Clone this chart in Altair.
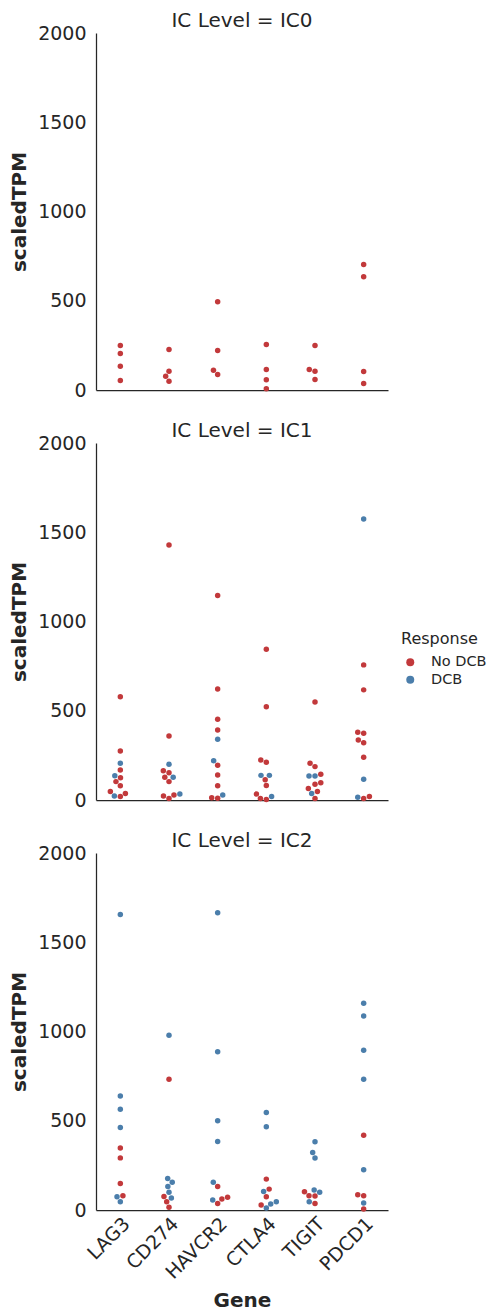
import math
import altair as alt
import pandas as pd

GENES = ["LAG3", "CD274", "HAVCR2", "CTLA4", "TIGIT", "PDCD1"]
IC_LEVELS = ["IC0", "IC1", "IC2"]
RESPONSES = ["No DCB", "DCB"]

# values per gene (same order as GENES)
IC0_NO_DCB = [[249, 204, 133, 53], [227, 105, 77, 49], [494, 221, 111, 87],
              [255, 115, 57, 7], [249, 115, 105, 59], [703, 634, 104, 36]]
IC0_DCB = [[], [], [], [], [], []]
IC1_NO_DCB = [[579, 275, 168, 125, 103, 80, 47, 37, 19],
              [1428, 359, 164, 153, 127, 103, 28, 22, 9],
              [1146, 622, 452, 392, 195, 140, 80, 13, 10],
              [845, 523, 224, 211, 114, 81, 33, 8, 3],
              [549, 206, 187, 144, 97, 88, 65, 47, 9],
              [757, 617, 380, 374, 336, 321, 239, 19, 9]]
IC1_DCB = [[206, 136, 22], [200, 127, 34], [340, 220, 28],
           [138, 138, 19], [135, 135, 37], [1574, 116, 15]]
IC2_NO_DCB = [[347, 292, 149, 80], [733, 76, 46, 15], [132, 71, 61, 37],
              [173, 117, 74, 28], [102, 80, 78, 37], [419, 86, 80, 5]]
IC2_DCB = [[1656, 639, 565, 462, 74, 46], [979, 177, 155, 132, 99, 67],
           [1665, 887, 500, 384, 155, 56], [546, 466, 104, 46, 34, 11],
           [382, 322, 291, 112, 99, 46], [1158, 1087, 895, 733, 225, 39]]

DATA = {
    "IC0": {"No DCB": IC0_NO_DCB, "DCB": IC0_DCB},
    "IC1": {"No DCB": IC1_NO_DCB, "DCB": IC1_DCB},
    "IC2": {"No DCB": IC2_NO_DCB, "DCB": IC2_DCB},
}

W = 292
H = 357
YMAX = 2000
BAND = W / len(GENES)
PX_PER_UNIT = H / YMAX
DOT_D = 6.0

RED = "#c2393b"
BLUE = "#4b7eab"
TXT = "#262626"
FONT = "DejaVu Sans"
TICK_FS = 19
TITLE_FS = 20


def swarm_offsets(values):
    """Seaborn-like beeswarm: returns horizontal pixel offsets."""
    ys = [v * PX_PER_UNIT for v in values]
    order = sorted(range(len(ys)), key=lambda i: ys[i])
    placed = []
    offs = [0.0] * len(ys)
    for i in order:
        y = ys[i]
        neigh = [(px, py) for px, py in placed if abs(py - y) < DOT_D]
        cands = [0.0]
        for px, py in neigh:
            dx = math.sqrt(max(DOT_D ** 2 - (py - y) ** 2, 0))
            cands += [px - dx, px + dx]
        cands.sort(key=lambda c: (round(abs(c), 6), c))
        for c in cands:
            ok = all((c - px) ** 2 + (y - py) ** 2 >= DOT_D ** 2 - 1e-6
                     for px, py in neigh)
            if ok:
                offs[i] = c
                placed.append((c, y))
                break
    return offs


rows = []
for ic in IC_LEVELS:
    for gi, g in enumerate(GENES):
        vals, resp = [], []
        for r in RESPONSES:
            for v in DATA[ic][r][gi]:
                vals.append(v)
                resp.append(r)
        offs = swarm_offsets(vals)
        for v, r, o in zip(vals, resp, offs):
            rows.append({"ic": ic, "gene": g, "response": r, "value": v, "off": o})
df = pd.DataFrame(rows)


def panel(ic, bottom, legend):
    if bottom:
        xaxis = alt.Axis(title="Gene", labelAngle=-45, labelAlign="right",
                         labelBaseline="top", labelPadding=4, ticks=False,
                         labelFontSize=TICK_FS, titleFontSize=TITLE_FS,
                         titleFontWeight="bold", titlePadding=8)
    else:
        xaxis = alt.Axis(title=None, labels=False, ticks=False)
    if legend:
        leg = alt.Legend(title="Response", orient="none", legendX=305, legendY=188,
                         titleFontSize=16, titleFontWeight="normal", labelFontSize=14.5,
                         symbolSize=64, symbolType="circle", symbolOffset=2,
                         labelOffset=13.5, rowPadding=2.5, titlePadding=8)
    else:
        leg = None
    enc = dict(
        x=alt.X("gene:N", sort=GENES,
                scale=alt.Scale(domain=GENES, paddingInner=0, paddingOuter=0),
                axis=xaxis),
        xOffset=alt.XOffset("off:Q",
                            scale=alt.Scale(domain=[-BAND / 2, BAND / 2], range=[0, BAND])),
        y=alt.Y("value:Q", scale=alt.Scale(domain=[0, YMAX], nice=False),
                axis=alt.Axis(title="scaledTPM", values=[0, 500, 1000, 1500, 2000],
                              format="d", tickSize=0, labelPadding=10,
                              labelFontSize=TICK_FS, titleFontSize=TITLE_FS,
                              titleFontWeight="bold", titlePadding=8, grid=False)),
        color=alt.Color("response:N",
                        scale=alt.Scale(domain=RESPONSES, range=[RED, BLUE]),
                        legend=leg),
    )
    pts = alt.Chart(df[df.ic == ic]).mark_circle(size=30, opacity=1).encode(**enc)
    ttl = alt.Chart(pd.DataFrame({"t": [f"IC Level = {ic}"]})).mark_text(
        font=FONT, fontSize=TITLE_FS, color=TXT, align="center", baseline="middle"
    ).encode(text="t:N", x=alt.value(W / 2), y=alt.value(-12.5))
    return alt.layer(pts, ttl).properties(width=W, height=H)


chart = alt.vconcat(
    panel("IC0", False, False),
    panel("IC1", False, True),
    panel("IC2", True, False),
    spacing=20,
).resolve_legend(color="independent").configure_view(stroke=None).configure_axis(
    domainColor=TXT, domainWidth=1.25, labelColor=TXT, titleColor=TXT,
    labelFont=FONT, titleFont=FONT,
).configure_legend(labelColor=TXT, titleColor=TXT, labelFont=FONT, titleFont=FONT
).properties(padding={"left": 9, "top": 10, "right": 0, "bottom": 1})

chart.save("out.html", embed_options={"renderer": "svg", "actions": False})
